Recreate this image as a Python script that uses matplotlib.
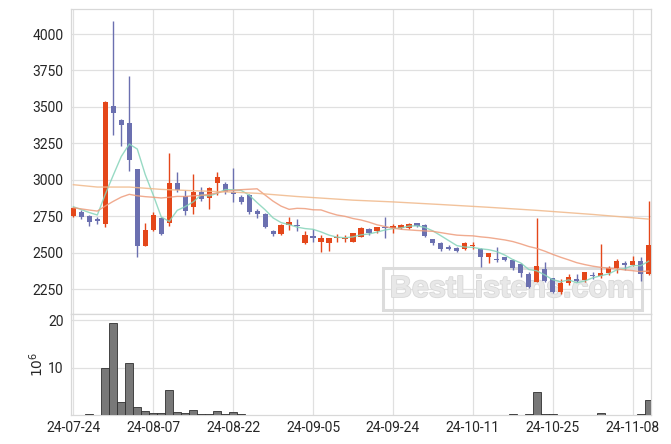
import numpy as np
import pandas as pd
import matplotlib
matplotlib.use("Agg")
import matplotlib.pyplot as plt
from matplotlib.patches import Rectangle
import matplotlib.patheffects as pe

plt.rcParams['font.family'] = ['Roboto', 'DejaVu Sans']

# trading days (KRX, holidays removed)
holidays = ['2024-08-15', '2024-09-16', '2024-09-17', '2024-09-18',
            '2024-10-01', '2024-10-03', '2024-10-09']
dates = pd.bdate_range('2024-07-24', '2024-11-12')
dates = dates[~dates.isin(pd.to_datetime(holidays))]

opens = [2751, 2780, 2751, 2730, 2696, 3506, 3412, 3389, 3073, 2547,
         2655, 2740, 2701, 2980, 2890, 2815, 2918, 2876, 2980, 2970,
         2915, 2880, 2895, 2787, 2765, 2648, 2625, 2687, 2689, 2563,
         2614, 2575, 2568, 2598, 2591, 2575, 2609, 2662, 2650, 2678,
         2666, 2666, 2671, 2701, 2689, 2591, 2568, 2541, 2530, 2522,
         2545, 2522, 2472, 2456, 2467, 2449, 2422, 2351, 2300, 2387,
         2323, 2231, 2289, 2317, 2311, 2346, 2342, 2362, 2392, 2426,
         2415, 2442, 2351]
highs = [2815, 2792, 2755, 2746, 3540, 4089, 3415, 3712, 3075, 2701,
         2780, 2745, 3181, 3055, 2929, 3037, 2952, 2952, 3051, 2985,
         3080, 2895, 2900, 2800, 2770, 2658, 2696, 2742, 2728, 2648,
         2662, 2620, 2598, 2625, 2620, 2635, 2673, 2666, 2676, 2746,
         2696, 2696, 2700, 2705, 2696, 2595, 2575, 2550, 2540, 2575,
         2575, 2530, 2497, 2541, 2470, 2455, 2430, 2365, 2740, 2437,
         2325, 2319, 2351, 2355, 2370, 2367, 2557, 2408, 2456, 2440,
         2477, 2470, 2854]
lows = [2746, 2730, 2685, 2694, 2673, 3307, 3231, 3060, 2467, 2547,
        2650, 2618, 2685, 2915, 2758, 2764, 2855, 2797, 2895, 2904,
        2847, 2835, 2765, 2735, 2670, 2616, 2620, 2655, 2650, 2560,
        2575, 2507, 2513, 2575, 2570, 2570, 2605, 2620, 2632, 2602,
        2632, 2660, 2660, 2675, 2610, 2552, 2510, 2515, 2505, 2520,
        2522, 2403, 2426, 2437, 2440, 2378, 2334, 2260, 2295, 2300,
        2220, 2217, 2278, 2300, 2300, 2319, 2326, 2346, 2362, 2381,
        2410, 2305, 2345]
closes = [2804, 2742, 2712, 2717, 3531, 3460, 3378, 3137, 2547, 2655,
          2758, 2628, 2980, 2929, 2787, 2918, 2868, 2941, 3021, 2918,
          2905, 2849, 2780, 2765, 2673, 2625, 2689, 2707, 2682, 2620,
          2602, 2598, 2598, 2610, 2602, 2632, 2666, 2632, 2673, 2671,
          2682, 2689, 2694, 2685, 2616, 2563, 2522, 2525, 2513, 2568,
          2552, 2472, 2495, 2449, 2449, 2396, 2358, 2266, 2408, 2305,
          2231, 2289, 2334, 2305, 2367, 2339, 2360, 2397, 2442, 2412,
          2442, 2355, 2552]

# volume in millions of shares
volume_m = [0, 0, 0.15, 0, 10.0, 19.3, 2.7, 11.0, 1.6, 0.85,
            0.45, 0.45, 5.3, 0.55, 0.45, 1.0, 0.15, 0.15, 0.8, 0.15,
            0.55, 0.15, 0, 0.1, 0.1, 0, 0, 0, 0, 0,
            0, 0, 0, 0, 0, 0, 0, 0, 0, 0,
            0, 0, 0, 0, 0, 0, 0, 0, 0, 0,
            0, 0, 0, 0, 0, 0.15, 0, 0.15, 4.9, 0.3,
            0.15, 0, 0, 0, 0, 0, 0.35, 0, 0, 0,
            0, 0.15, 3.2]

# moving averages as shown
ma5 = [2815, 2795, 2775, 2758,
       2901, 3032, 3160, 3245, 3211, 3035, 2895, 2745, 2714, 2790,
       2816, 2848, 2896, 2889, 2907, 2933, 2931, 2927, 2895, 2843,
       2794, 2738, 2706, 2692, 2675, 2665, 2660, 2642, 2620, 2606,
       2602, 2608, 2622, 2628, 2641, 2655, 2665, 2669, 2682, 2684,
       2673, 2649, 2616, 2582, 2548, 2538, 2536, 2526, 2520, 2507,
       2483, 2452, 2429, 2384, 2375, 2347, 2314, 2300, 2313, 2293,
       2305, 2327, 2341, 2354, 2381, 2390, 2411, 2410, 2441]
ma20 = [2808, 2800, 2792, 2785, 2820, 2852, 2881, 2900, 2890, 2884,
        2880, 2875, 2880, 2886, 2885, 2890, 2893, 2900, 2910,
        2922, 2927, 2932, 2935, 2938, 2895, 2853, 2819, 2797, 2804,
        2802, 2794, 2793, 2774, 2758, 2749, 2734, 2724, 2709, 2691,
        2679, 2668, 2660, 2656, 2652, 2649, 2646, 2637, 2628, 2620,
        2617, 2615, 2608, 2603, 2595, 2587, 2576, 2560, 2542, 2529,
        2510, 2488, 2468, 2450, 2431, 2418, 2407, 2399, 2393, 2389,
        2381, 2376, 2370, 2373]
ma_long_idx = [0, 3, 7, 11, 15, 20, 23, 28, 35, 40, 46, 52, 58, 65, 72]
ma_long = [2966, 2950, 2950, 2934, 2925, 2915, 2907, 2885, 2860, 2848,
           2830, 2811, 2790, 2762, 2730]

UP = '#e4471a'
DOWN = '#6b70b0'

o = np.array(opens); h = np.array(highs); l = np.array(lows); c = np.array(closes)
x = np.arange(len(closes))
up = c >= o
colors = np.where(up, UP, DOWN)

fig = plt.figure(figsize=(6.71, 4.44), dpi=100)
ax = fig.add_axes([0.1054, 0.2939, 0.8648, 0.6858])
axv = fig.add_axes([0.1054, 0.0653, 0.8648, 0.2286], sharex=ax)

for a in (ax, axv):
    a.set_axisbelow(True)
    a.grid(True, color='#e0e0e0', linewidth=0.9)
    for s in a.spines.values():
        s.set_color('#d8d8d8')
        s.set_linewidth(0.9)
    a.tick_params(length=0, labelsize=10, colors='#262626')

# candles
ax.vlines(x, l, h, colors=colors, linewidth=1.0, zorder=2)
ax.bar(x, np.abs(c - o), bottom=np.minimum(o, c), width=0.65,
       color=colors, linewidth=0, zorder=3)

# moving averages
ax.plot(x, ma5, color='#86d4ba', linewidth=1.0, alpha=0.85, zorder=4)
ax.plot(x, ma20, color='#ee9c7c', linewidth=1.0, alpha=0.85, zorder=4)
ax.plot(ma_long_idx, ma_long, color='#f0b88a', linewidth=1.0, alpha=0.85, zorder=4)

ax.set_ylim(2082, 4172)
ax.set_yticks(np.arange(2250, 4001, 250))
ax.set_xlim(-0.33, 72.3)
ax.tick_params(axis='x', labelbottom=False)
ax.tick_params(axis='y', pad=5)

# watermark
ax.add_patch(Rectangle((383 / 671, 1 - 310 / 444), 259 / 671, 42 / 444,
                       transform=fig.transFigure, fill=False,
                       edgecolor='#dcdcdc', linewidth=2.2, zorder=0.8,
                       clip_on=False))
ax.text(512 / 671, 1 - 289 / 444, 'BestListens.com', transform=fig.transFigure,
        ha='center', va='center', fontsize=22, fontweight='bold',
        family='Liberation Sans', color='#e8e8e8', zorder=0.8,
        path_effects=[pe.withStroke(linewidth=1.2, foreground='#d8d8d8')])

# volume
vol = np.array(volume_m)
keep = vol > 0
axv.bar(x[keep], vol[keep], width=1.0, color='#787878',
        edgecolor='#303030', linewidth=0.6, zorder=3)
axv.set_ylim(0, 21.4)
axv.set_yticks([10, 20])
axv.set_ylabel('$10^{6}$', fontsize=10, labelpad=2, color='#262626')
axv.tick_params(axis='y', pad=5)
axv.tick_params(axis='x', pad=4)

ticks = x[::10]
axv.set_xticks(ticks)
axv.set_xticklabels([dates[i].strftime('%y-%m-%d') for i in ticks])
axv.set_xlim(-0.33, 72.3)

fig.savefig('out.png', dpi=100)
